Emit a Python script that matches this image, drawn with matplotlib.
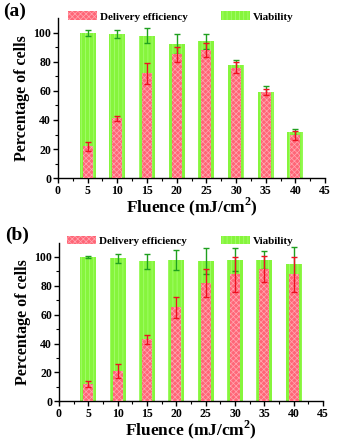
import matplotlib
matplotlib.use("Agg")
import matplotlib.pyplot as plt
import numpy as np

fluence = [5, 10, 15, 20, 25, 30, 35, 40]

# panel (a)
via_a = [100, 99, 98, 92, 94, 77.5, 59, 31.5]
via_a_err = [2, 3, 5, 7, 5, 4, 4, 2]
del_a = [22, 41, 72, 85, 88, 76, 59, 29.5]
del_a_err = [3, 2, 7, 5, 5, 4, 2, 3]

# panel (b)
via_b = [100, 99, 97, 98, 97, 98, 98, 95]
via_b_err = [1, 3, 5, 7, 9, 8, 6, 12]
del_b = [12, 21, 43, 65, 82, 88, 92, 88]
del_b_err = [2, 5, 3, 7, 10, 12, 9, 12]

GREEN = "#86f53c"
RED = "#ff6677"

plt.rcParams["font.family"] = ["Liberation Serif", "DejaVu Serif"]
plt.rcParams["font.weight"] = "bold"
plt.rcParams["mathtext.fontset"] = "custom"
plt.rcParams["mathtext.bf"] = "Liberation Serif:bold"
plt.rcParams["hatch.linewidth"] = 0.5


def panel(ax, via, via_err, dele, dele_err, label):
    ax.bar(fluence, via, width=2.7, color=GREEN, edgecolor="#aaff77",
           hatch="||||", linewidth=0, label="Viability", zorder=2)
    ax.errorbar(fluence, via, yerr=via_err, fmt="none", ecolor="#1fa01f",
                elinewidth=1.0, capsize=2.5, capthick=1.0, zorder=3)
    ax.bar(fluence, dele, width=1.7, color=RED, edgecolor="#ffa8b2",
           hatch="xxxxxx", linewidth=0, label="Delivery efficiency", zorder=4)
    ax.errorbar(fluence, dele, yerr=dele_err, fmt="none", ecolor="#ee1122",
                elinewidth=1.0, capsize=2.5, capthick=1.0, zorder=5)

    ax.set_xlim(0, 45)
    ax.set_ylim(0, 110)
    ax.set_xticks(range(0, 46, 5))
    ax.set_xticks(np.arange(2.5, 45, 5), minor=True)
    ax.set_yticks(range(0, 101, 20))
    ax.set_yticks(range(10, 110, 20), minor=True)
    ax.spines["top"].set_visible(False)
    ax.spines["right"].set_visible(False)
    for s in ("left", "bottom"):
        ax.spines[s].set_linewidth(1.0)
    ax.tick_params(which="major", direction="out", length=3.5, width=1.0,
                   labelsize=8.5, pad=1.5)
    ax.tick_params(which="minor", direction="out", length=2, width=0.8)
    for t in ax.get_xticklabels() + ax.get_yticklabels():
        t.set_fontweight("bold")

    ax.set_xlabel("Fluence (mJ/cm$^\\mathbf{2}$)", fontsize=12.5,
                  fontweight="bold", labelpad=-1)
    ax.set_ylabel("Percentage of cells", fontsize=11.5, fontweight="bold",
                  labelpad=2)

    h, l = ax.get_legend_handles_labels()
    ax.legend(h[::-1], l[::-1], loc="center", bbox_to_anchor=(0.46, 1.01),
              ncol=2, frameon=False, handlelength=2.6,
              handleheight=0.8, columnspacing=3.0, handletextpad=0.3,
              borderaxespad=0, prop={"weight": "bold", "size": 8})
    ax.text(-0.205, 0.99, label, transform=ax.transAxes, fontsize=14,
            fontweight="bold", ha="left", va="bottom")


fig = plt.figure(figsize=(3.39, 4.41), dpi=100)
ax_a = fig.add_axes([0.171, 0.596, 0.788, 0.363])
ax_b = fig.add_axes([0.174, 0.09, 0.779, 0.36])

panel(ax_a, via_a, via_a_err, del_a, del_a_err, "(a)")
panel(ax_b, via_b, via_b_err, del_b, del_b_err, "(b)")

fig.savefig("out.png", dpi=100)
